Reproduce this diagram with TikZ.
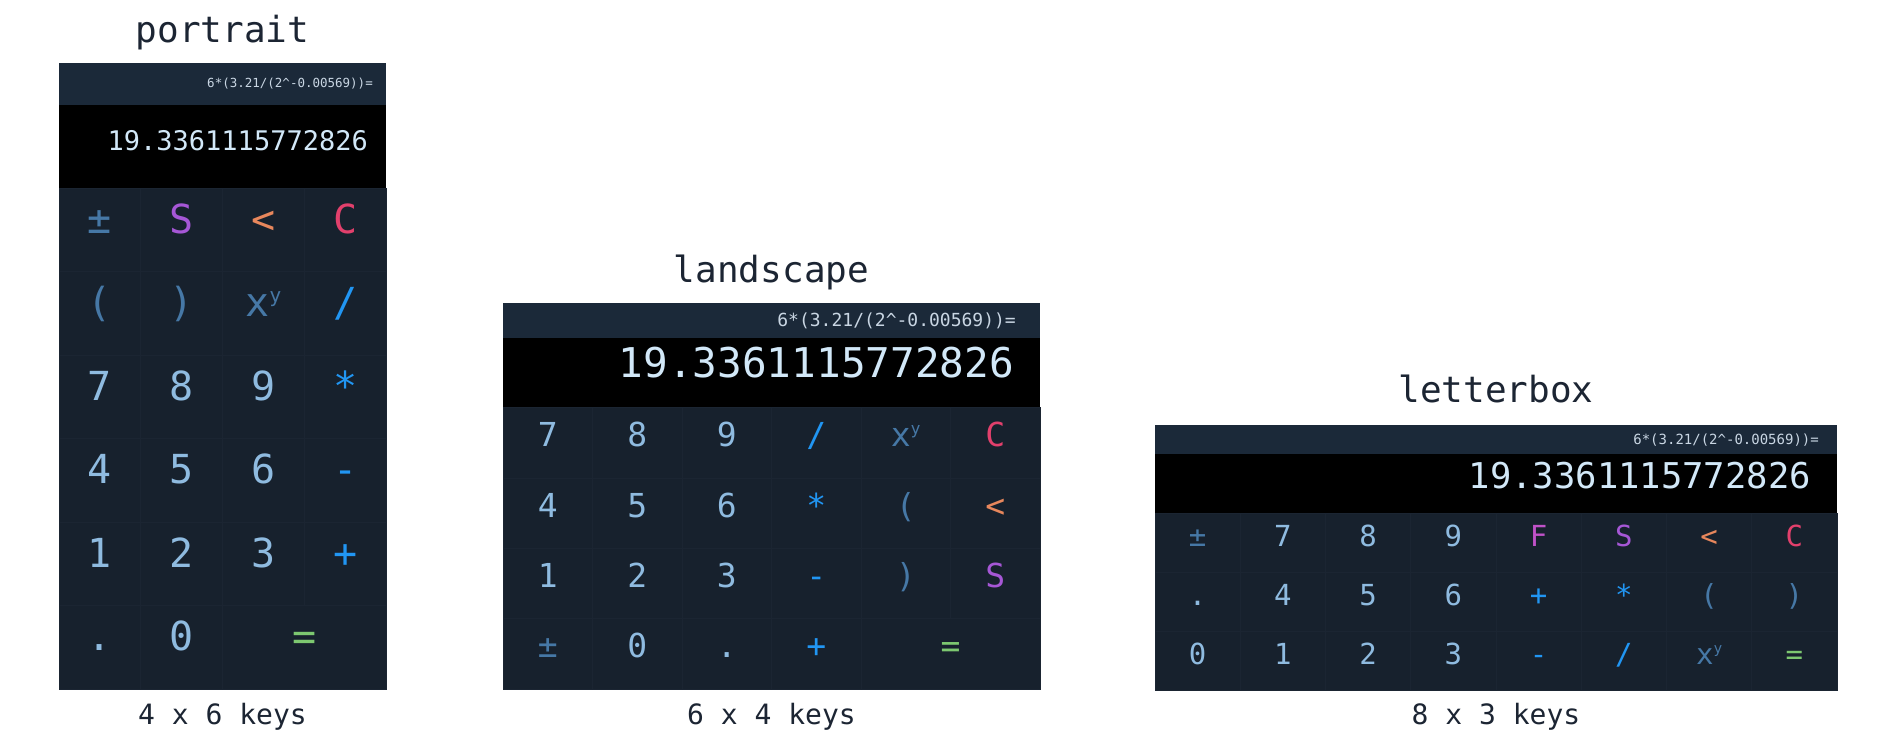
\documentclass[tikz,border=0pt]{standalone}
\usepackage{graphicx}
\usepackage{fontspec}
\setmainfont{DejaVu Sans Mono}
\setmonofont{DejaVu Sans Mono}

\definecolor{calcbg}{HTML}{17212D}
\definecolor{calchead}{HTML}{1B2939}
\definecolor{calcgrid}{HTML}{1B2532}
\definecolor{digitblue}{HTML}{8FBBE0}
\definecolor{resultblue}{HTML}{D2E8F8}
\definecolor{exprgray}{HTML}{C9D6E3}
\definecolor{opblue}{HTML}{2196F3}
\definecolor{muteblue}{HTML}{4678A6}
\definecolor{swappurple}{HTML}{A657D6}
\definecolor{fnmagenta}{HTML}{C052C8}
\definecolor{backorange}{HTML}{E8875C}
\definecolor{clearred}{HTML}{E2406C}
\definecolor{eqgreen}{HTML}{7DC870}
\definecolor{titleink}{HTML}{1C2533}

\newcommand{\fsz}[1]{\fontsize{#1}{#1}\selectfont}
\newcommand{\xpow}{x\raisebox{0.36em}{\scalebox{0.5}{y}}}
\newcommand{\calcexpr}{6*(3.21/(2\textasciicircum-0.00569))=}

\tikzset{
  key/.style={draw=calcgrid, fill=calcbg, line width=1pt, inner sep=0pt,
              text height=0.729em, text depth=0pt},
  pkey/.style={key, minimum width=81.75pt, minimum height=83.5pt, font=\fsz{40}},
  lkey/.style={key, minimum width=89.5pt, minimum height=70.25pt, font=\fsz{33}},
  bkey/.style={key, minimum width=85.25pt, minimum height=59pt, font=\fsz{29}},
  dig/.style={text=digitblue},
  op/.style={text=opblue},
  mute/.style={text=muteblue},
  swapk/.style={text=swappurple},
  fnk/.style={text=fnmagenta},
  backk/.style={text=backorange},
  clr/.style={text=clearred},
  eq/.style={text=eqgreen},
  band/.style={inner sep=0pt, anchor=north west},
  exprtext/.style={text=exprgray, inner sep=0pt, anchor=east},
  resulttext/.style={text=resultblue, inner sep=0pt, anchor=east,
                     text height=0.729em, text depth=0pt},
  title/.style={text=titleink, inner sep=0pt, anchor=base, font=\fsz{36}},
  caption/.style={text=titleink, inner sep=0pt, anchor=base, font=\fsz{28}}
}

\begin{document}
\begin{tikzpicture}[x=1pt, y=-1pt]

\useasboundingbox[fill=white] (0,0) rectangle (1902,742);

% portrait
\node[title] (ptitle) at (222.5,42) {portrait};
\node[band, fill=calchead, minimum width=327pt, minimum height=42pt] (phead) at (59,63) {};
\node[band, fill=black, minimum width=327pt, minimum height=83pt] (pdisp) at (59,105) {};
\node[exprtext, font=\fsz{12.5}] (pexpr) at (373,84) {\calcexpr};
\node[resulttext, font=\fsz{27}] (pres) at (368,146.5) {19.3361115772826};

\node[pkey, mute]  (ppm)  at (99.875,229.75) {±};
\node[pkey, swapk] (pS)   at (181.625,229.75) {S};
\node[pkey, backk] (pbk)  at (263.375,229.75) {<};
\node[pkey, clr]   (pC)   at (345.125,229.75) {C};
\node[pkey, mute]  (plp)  at (99.875,313.25) {(};
\node[pkey, mute]  (prp)  at (181.625,313.25) {)};
\node[pkey, mute]  (ppow) at (263.375,313.25) {\xpow};
\node[pkey, op]    (pdiv) at (345.125,313.25) {/};
\node[pkey, dig]   (p7)   at (99.875,396.75) {7};
\node[pkey, dig]   (p8)   at (181.625,396.75) {8};
\node[pkey, dig]   (p9)   at (263.375,396.75) {9};
\node[pkey, op]    (pmul) at (345.125,396.75) {*};
\node[pkey, dig]   (p4)   at (99.875,480.25) {4};
\node[pkey, dig]   (p5)   at (181.625,480.25) {5};
\node[pkey, dig]   (p6)   at (263.375,480.25) {6};
\node[pkey, op]    (psub) at (345.125,480.25) {-};
\node[pkey, dig]   (p1)   at (99.875,563.75) {1};
\node[pkey, dig]   (p2)   at (181.625,563.75) {2};
\node[pkey, dig]   (p3)   at (263.375,563.75) {3};
\node[pkey, op]    (padd) at (345.125,563.75) {+};
\node[pkey, dig]   (pdot) at (99.875,647.25) {.};
\node[pkey, dig]   (p0)   at (181.625,647.25) {0};
\node[pkey, eq, minimum width=163.5pt] (peq) at (304.25,647.25) {=};

\node[caption] (pcap) at (222.5,724) {4 x 6 keys};

% landscape
\node[title] (ltitle) at (771.5,282) {landscape};
\node[band, fill=calchead, minimum width=537pt, minimum height=35pt] (lhead) at (503,303) {};
\node[band, fill=black, minimum width=537pt, minimum height=70pt] (ldisp) at (503,338) {};
\node[exprtext, font=\fsz{18}] (lexpr) at (1016,321) {\calcexpr};
\node[resulttext, font=\fsz{41}] (lres) at (1014,374) {19.3361115772826};

\node[lkey, dig]   (l7)   at (547.75,443.1) {7};
\node[lkey, dig]   (l8)   at (637.25,443.1) {8};
\node[lkey, dig]   (l9)   at (726.75,443.1) {9};
\node[lkey, op]    (ldiv) at (816.25,443.1) {/};
\node[lkey, mute]  (lpow) at (905.75,443.1) {\xpow};
\node[lkey, clr]   (lC)   at (995.25,443.1) {C};
\node[lkey, dig]   (l4)   at (547.75,513.4) {4};
\node[lkey, dig]   (l5)   at (637.25,513.4) {5};
\node[lkey, dig]   (l6)   at (726.75,513.4) {6};
\node[lkey, op]    (lmul) at (816.25,513.4) {*};
\node[lkey, mute]  (llp)  at (905.75,513.4) {(};
\node[lkey, backk] (lbk)  at (995.25,513.4) {<};
\node[lkey, dig]   (l1)   at (547.75,583.6) {1};
\node[lkey, dig]   (l2)   at (637.25,583.6) {2};
\node[lkey, dig]   (l3)   at (726.75,583.6) {3};
\node[lkey, op]    (lsub) at (816.25,583.6) {-};
\node[lkey, mute]  (lrp)  at (905.75,583.6) {)};
\node[lkey, swapk] (lS)   at (995.25,583.6) {S};
\node[lkey, mute]  (lpm)  at (547.75,653.9) {±};
\node[lkey, dig]   (l0)   at (637.25,653.9) {0};
\node[lkey, dig]   (ldot) at (726.75,653.9) {.};
\node[lkey, op]    (ladd) at (816.25,653.9) {+};
\node[lkey, eq, minimum width=179pt] (leq) at (950.5,653.9) {=};

\node[caption] (lcap) at (771.5,724) {6 x 4 keys};

% letterbox
\node[title] (btitle) at (1496,402) {letterbox};
\node[band, fill=calchead, minimum width=682pt, minimum height=29pt] (bhead) at (1155,425) {};
\node[band, fill=black, minimum width=682pt, minimum height=59pt] (bdisp) at (1155,454) {};
\node[exprtext, font=\fsz{14}] (bexpr) at (1819,440) {\calcexpr};
\node[resulttext, font=\fsz{35.5}] (bres) at (1811,485) {19.3361115772826};

\node[bkey, mute]  (bpm)  at (1197.625,542.5) {±};
\node[bkey, dig]   (b7)   at (1282.875,542.5) {7};
\node[bkey, dig]   (b8)   at (1368.125,542.5) {8};
\node[bkey, dig]   (b9)   at (1453.375,542.5) {9};
\node[bkey, fnk]   (bF)   at (1538.625,542.5) {F};
\node[bkey, swapk] (bS)   at (1623.875,542.5) {S};
\node[bkey, backk] (bbk)  at (1709.125,542.5) {<};
\node[bkey, clr]   (bC)   at (1794.375,542.5) {C};
\node[bkey, dig]   (bdot) at (1197.625,601.5) {.};
\node[bkey, dig]   (b4)   at (1282.875,601.5) {4};
\node[bkey, dig]   (b5)   at (1368.125,601.5) {5};
\node[bkey, dig]   (b6)   at (1453.375,601.5) {6};
\node[bkey, op]    (badd) at (1538.625,601.5) {+};
\node[bkey, op]    (bmul) at (1623.875,601.5) {*};
\node[bkey, mute]  (blp)  at (1709.125,601.5) {(};
\node[bkey, mute]  (brp)  at (1794.375,601.5) {)};
\node[bkey, dig]   (b0)   at (1197.625,660.5) {0};
\node[bkey, dig]   (b1)   at (1282.875,660.5) {1};
\node[bkey, dig]   (b2)   at (1368.125,660.5) {2};
\node[bkey, dig]   (b3)   at (1453.375,660.5) {3};
\node[bkey, op]    (bsub) at (1538.625,660.5) {-};
\node[bkey, op]    (bdiv) at (1623.875,660.5) {/};
\node[bkey, mute]  (bpow) at (1709.125,660.5) {\xpow};
\node[bkey, eq]    (beq)  at (1794.375,660.5) {=};

\node[caption] (bcap) at (1496,724) {8 x 3 keys};
\end{tikzpicture}
\end{document}
